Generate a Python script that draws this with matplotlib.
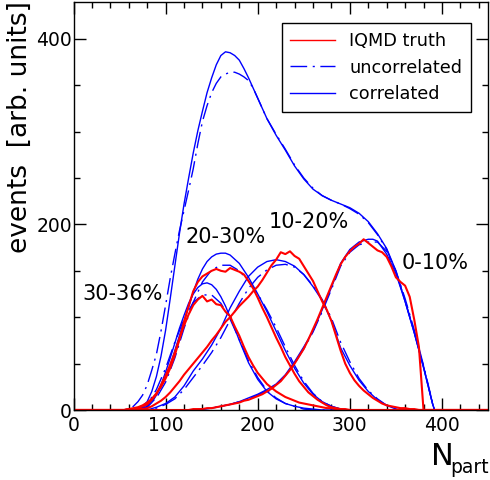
import numpy as np
import matplotlib
matplotlib.use("Agg")
import matplotlib.pyplot as plt
from matplotlib.lines import Line2D
from matplotlib.ticker import MultipleLocator

plt.rcParams['font.family'] = ['DejaVu Sans']

# ---------------- data ----------------
# total distributions
tot_x = [0, 60, 70, 75, 80, 85, 90, 95, 100, 105, 110, 115, 120, 125, 130, 135, 140, 145, 150, 155,
         160, 165, 170, 175, 180, 185, 190, 195, 200, 210, 220, 230, 240, 250, 260, 270, 280, 290,
         300, 310, 320, 330, 340, 350, 360, 370, 380, 390, 392, 450]
tot_corr = [0, 0, 1, 4, 9, 20, 36, 58, 86, 120, 155, 190, 222, 250, 277, 301, 322, 342, 358, 372,
            382, 386, 385, 382, 377, 368, 358, 347, 336, 314, 296, 280, 263, 249, 238, 231, 226, 222,
            218, 212, 203, 190, 174, 150, 117, 83, 46, 6, 0, 0]

totu_x = [0, 50, 60, 65, 70, 75, 80, 85, 90, 95, 100, 105, 110, 115, 120, 125, 130, 135, 140, 145,
          150, 155, 160, 165, 170, 175, 180, 185, 190, 195, 200, 210, 220, 230, 240, 250, 260, 270,
          280, 290, 300, 310, 320, 330, 340, 350, 360, 370, 380, 390, 392, 450]
tot_uncorr = [0, 0, 1, 4, 9, 16, 27, 43, 60, 85, 113, 142, 168, 193, 215, 237, 260, 287, 311, 328,
              342, 352, 359, 362, 364, 364, 362, 359, 355, 347, 336, 314, 297, 281, 264, 250, 239, 231,
              226, 222, 217, 211, 202, 189, 173, 149, 118, 84, 47, 6, 0, 0]

# centrality classes: correlated fits (solid)
c3036_x = [0, 75, 80, 85, 90, 95, 100, 105, 110, 115, 120, 125, 130, 135, 140, 145, 150, 155, 160,
           165, 170, 175, 180, 190, 200, 210, 220, 230, 240, 250, 260, 270, 450]
c3036_y = [0, 0, 3, 8, 16, 27, 41, 56, 72, 88, 102, 115, 125, 132, 136, 137, 135, 130, 122,
           112, 100, 88, 75, 51, 33, 20, 12, 7, 4, 2, 1, 0, 0]

c2030_x = [0, 75, 80, 85, 90, 95, 100, 105, 110, 115, 120, 125, 130, 135, 140, 145, 150, 155, 160,
           165, 170, 180, 190, 200, 210, 220, 230, 240, 250, 260, 270, 280, 290, 300, 450]
c2030_y = [0, 0, 4, 10, 17, 25, 35, 48, 64, 80, 96, 111, 127, 141, 152, 160, 165, 168, 169,
           169, 167, 158, 143, 125, 106, 85, 64, 45, 29, 17, 9, 4, 1, 0, 0]

c1020_x = [0, 80, 90, 100, 110, 120, 130, 140, 150, 160, 170, 180, 190, 200, 210, 220, 230, 240,
           250, 260, 270, 280, 290, 300, 310, 320, 330, 340, 350, 360, 450]
c1020_y = [0, 0, 3, 7, 14, 26, 42, 55, 70, 88, 110, 128, 144, 154, 160, 162, 160, 155,
           146, 133, 118, 96, 67, 48, 32, 20, 11, 5, 1, 0, 0]

c010_x = [0, 130, 140, 150, 160, 170, 180, 190, 200, 210, 220, 230, 240, 250, 260, 270, 280, 290,
          300, 310, 320, 325, 330, 340, 350, 360, 370, 380, 390, 392, 450]
c010_y = [0, 0, 1, 2, 4, 6, 9, 13, 17, 22, 28, 38, 52, 68, 85, 108, 132, 158,
          173, 181, 184, 184, 182, 168, 147, 117, 83, 46, 6, 0, 0]

# centrality classes: uncorrelated fits (dash-dot)
u3036_x = [0, 70, 80, 90, 100, 110, 120, 130, 140, 150, 160, 170, 180, 190, 200, 210, 220, 230,
           240, 250, 260, 450]
u3036_y = [0, 0, 6, 22, 45, 73, 98, 116, 124, 124, 115, 98, 76, 53, 35, 21, 13, 7,
           4, 1, 0, 0]

u2030_x = [0, 70, 80, 90, 100, 110, 120, 130, 140, 150, 160, 170, 180, 190, 200, 210, 220, 230,
           240, 250, 260, 270, 280, 290, 300, 450]
u2030_y = [0, 0, 4, 13, 30, 56, 88, 116, 138, 151, 156, 156, 150, 139, 125, 108, 89, 68,
           48, 31, 18, 9, 4, 1, 0, 0]

u1020_x = [0, 80, 90, 100, 110, 120, 130, 140, 150, 160, 170, 180, 190, 200, 210, 220, 230, 240,
           250, 260, 270, 280, 290, 300, 310, 320, 330, 340, 350, 360, 450]
u1020_y = [0, 0, 2, 6, 12, 22, 35, 48, 62, 78, 97, 115, 131, 143, 151, 156, 157, 154,
           146, 134, 119, 99, 73, 52, 34, 21, 12, 5, 1, 0, 0]

u010_x = c010_x
u010_y = [0, 0, 1, 2, 4, 6, 9, 12, 16, 21, 27, 37, 50, 66, 84, 106, 130, 155,
          170, 178, 181, 181, 181, 171, 150, 120, 86, 48, 7, 0, 0]

# IQMD truth histograms (values every 5 units, starting at the given N_part)
h_step = 5
h3036_start = 50
h3036 = [0, 0, 1, 1, 2, 4, 6, 11, 17, 27, 37, 49, 62, 77, 91, 103, 113, 119, 123, 117,
         119, 114, 113, 106, 101, 90, 80, 68, 57, 48, 40, 34, 28, 24, 20, 17, 14, 12, 10, 8,
         7, 6, 5, 4, 3, 2, 2, 1, 1, 0, 0]
h2030_start = 50
h2030 = [0, 0, 1, 2, 3, 5, 8, 12, 18, 25, 34, 45, 59, 76, 95, 112, 128, 138, 144, 147,
         150, 152, 150, 149, 153, 151, 149, 146, 139, 131, 121, 110, 100, 89, 78, 68, 57, 48, 39, 31,
         25, 19, 15, 11, 8, 5, 3, 2, 1, 1, 0]
h1020_start = 60
h1020 = [0, 0, 1, 1, 2, 4, 7, 10, 14, 19, 25, 31, 38, 44, 50, 56, 62, 68, 75, 81,
         88, 95, 100, 106, 112, 117, 122, 128, 133, 140, 148, 156, 162, 170, 168, 171, 166, 163, 155, 147,
         139, 128, 117, 108, 96, 80, 64, 50, 40, 32, 26, 21, 17, 13, 10, 7, 5, 4, 3, 2,
         2, 1, 1, 0, 0]
h010_start = 120
h010 = [0, 0, 1, 1, 1, 2, 2, 3, 4, 5, 6, 7, 8, 10, 11, 13, 15, 17, 20, 23,
        27, 31, 37, 43, 50, 58, 66, 76, 87, 98, 110, 122, 134, 146, 157, 165, 171, 176, 179, 184,
        180, 176, 172, 170, 165, 155, 143, 138, 134, 122, 97, 68, 0, 0]

class_labels = ["30-36%", "20-30%", "10-20%", "0-10%"]
label_pos = [(53, 125), (165, 186), (256, 203), (393, 158)]
legend_labels = ["IQMD truth", "uncorrelated", "correlated"]

# ---------------- figure ----------------
fig = plt.figure(figsize=(4.9, 4.8), dpi=100)
ax = fig.add_axes([73.5 / 490, 70 / 480, (488 - 73.5) / 490, (410 - 1.7) / 480])

blue = '#0000ff'
red = '#ff0000'
dd = (0, (12, 4, 1.5, 4))

# blue fits
for xs, ys in [(c3036_x, c3036_y), (c2030_x, c2030_y), (c1020_x, c1020_y), (c010_x, c010_y)]:
    ax.plot(xs, ys, color=blue, lw=1.0)
for xs, ys in [(u3036_x, u3036_y), (u2030_x, u2030_y), (u1020_x, u1020_y), (u010_x, u010_y)]:
    ax.plot(xs, ys, color=blue, lw=1.0, linestyle=dd)
ax.plot(tot_x, tot_corr, color=blue, lw=1.0)
ax.plot(totu_x, tot_uncorr, color=blue, lw=1.0, linestyle=dd)

# red histograms (padded with empty bins over the full axis range)
full_x = np.arange(0, 451, h_step)
for start, vals in [(h3036_start, h3036), (h2030_start, h2030), (h1020_start, h1020), (h010_start, h010)]:
    yfull = np.zeros_like(full_x, dtype=float)
    i0 = start // h_step
    yfull[i0:i0 + len(vals)] = vals
    ax.plot(full_x, yfull, color=red, lw=1.5)

for txt, (x, y) in zip(class_labels, label_pos):
    ax.text(x, y, txt, fontsize=15, ha='center', va='center')

ax.set_xlim(0, 450)
ax.set_ylim(0, 440)
ax.xaxis.set_major_locator(MultipleLocator(100))
ax.xaxis.set_minor_locator(MultipleLocator(20))
ax.yaxis.set_major_locator(MultipleLocator(200))
ax.yaxis.set_minor_locator(MultipleLocator(50))
ax.tick_params(which='both', direction='in', top=True, right=True, width=1.0)
ax.tick_params(which='major', length=8.6, labelsize=13.5)
ax.tick_params(which='minor', length=4.5)
ax.tick_params(axis='x', which='major', pad=4)
ax.tick_params(axis='y', which='major', pad=1)
for s in ax.spines.values():
    s.set_linewidth(1.0)

handles = [Line2D([], [], color=red, lw=1.0),
           Line2D([], [], color=blue, lw=1.0, linestyle=dd),
           Line2D([], [], color=blue, lw=1.0)]
leg = ax.legend(handles, legend_labels, loc='upper right', bbox_to_anchor=(0.959, 0.948),
                borderaxespad=0, fontsize=12.7, frameon=True, fancybox=False, framealpha=1,
                edgecolor='black', handlelength=2.55, handletextpad=0.78, labelspacing=0.5,
                borderpad=0.5)
leg.get_frame().set_linewidth(1.0)

fig.text(20 / 490, 1 - 127 / 480, "events  [arb. units]", rotation=90, fontsize=19,
         ha='center', va='center')
fig.text(431 / 490, 1 - 465 / 480, "N", fontsize=22, ha='left', va='baseline')
fig.text(450 / 490, 1 - 473 / 480, "part", fontsize=13.5, ha='left', va='baseline')

fig.savefig("out.png", dpi=100)
